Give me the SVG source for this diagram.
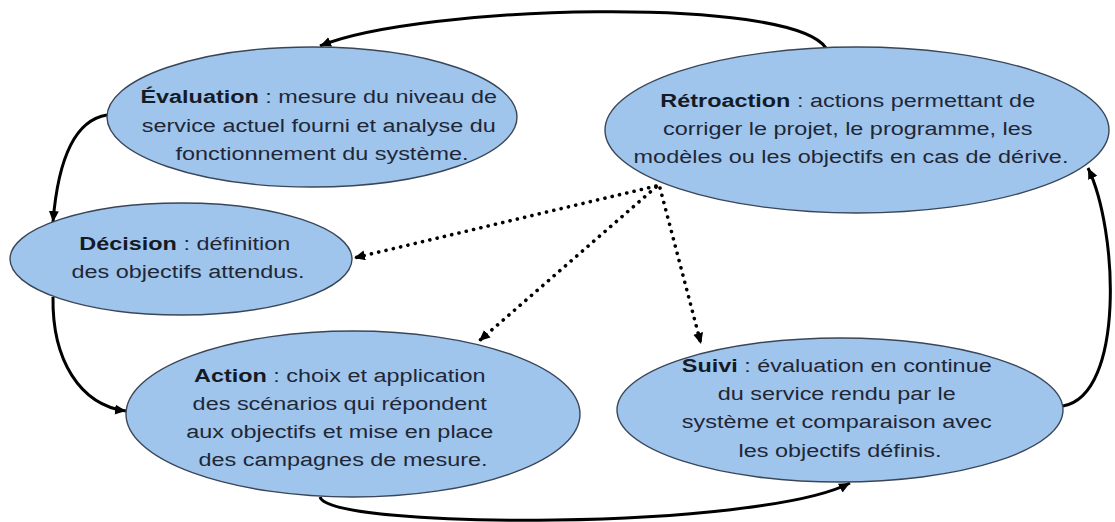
<svg xmlns="http://www.w3.org/2000/svg" width="1115" height="522" viewBox="0 0 1115 522">
  <style>
    .node { fill: #9fc5ec; stroke: #3a4658; stroke-width: 1.4; }
    .label { font-family: "Liberation Sans", Arial, sans-serif; font-size: 18.6px; fill: #1f2737; text-anchor: middle; }
    .label .b { font-weight: bold; fill: #141a26; }
    .flow { fill: none; stroke: #000; stroke-width: 3; }
    .feedback { fill: none; stroke: #000; stroke-width: 3.6; stroke-linecap: round; stroke-dasharray: 0.1 7.4; }
  </style>
  <defs>
    <marker id="arrow" markerUnits="userSpaceOnUse" markerWidth="12" markerHeight="11" refX="11" refY="5" orient="auto">
      <path d="M0,0 L11,5 L0,10 z" fill="#000"/>
    </marker>
  </defs>

  <rect width="1115" height="522" fill="#fff"/>

  <!-- connectors -->
  <g id="connectors">
    <path class="flow" d="M826 48 C790 -5 420 5 320 46" marker-end="url(#arrow)"/>
    <path class="flow" d="M107 115 C75 120 58 160 53 222" marker-end="url(#arrow)"/>
    <path class="flow" d="M53 297 C52 360 80 405 126 411" marker-end="url(#arrow)"/>
    <path class="flow" d="M320 497 C330 530 760 530 850 483" marker-end="url(#arrow)"/>
    <path class="flow" d="M1063 406 C1125 395 1118 230 1088 168" marker-end="url(#arrow)"/>
    <path class="feedback" d="M656 186 L354 258" marker-end="url(#arrow)"/>
    <path class="feedback" d="M656 187 L479 341" marker-end="url(#arrow)"/>
    <path class="feedback" d="M660 188 L701 344" marker-end="url(#arrow)"/>
  </g>

  <!-- Évaluation -->
  <g id="evaluation">
    <ellipse class="node" cx="312" cy="117" rx="205" ry="70"/>
    <text class="label" transform="translate(322 0) scale(1.26 1)">
      <tspan x="0" y="103"><tspan class="b">Évaluation</tspan> : mesure du niveau de</tspan>
      <tspan x="0" y="132">service actuel fourni et analyse du</tspan>
      <tspan x="0" y="160">fonctionnement du système.</tspan>
    </text>
  </g>

  <!-- Rétroaction -->
  <g id="retroaction">
    <ellipse class="node" cx="857" cy="130" rx="252" ry="83"/>
    <text class="label" transform="translate(851 0) scale(1.26 1)">
      <tspan x="0" y="107"><tspan class="b">Rétroaction</tspan> : actions permettant de</tspan>
      <tspan x="0" y="135">corriger le projet, le programme, les</tspan>
      <tspan x="0" y="163">modèles ou les objectifs en cas de dérive.</tspan>
    </text>
  </g>

  <!-- Décision -->
  <g id="decision">
    <ellipse class="node" cx="181" cy="259" rx="171" ry="56"/>
    <text class="label" transform="translate(188 0) scale(1.26 1)">
      <tspan x="0" y="250"><tspan class="b">Décision</tspan> : définition</tspan>
      <tspan x="0" y="278">des objectifs attendus.</tspan>
    </text>
  </g>

  <!-- Action -->
  <g id="action">
    <ellipse class="node" cx="353" cy="414" rx="227" ry="83"/>
    <text class="label" transform="translate(343 0) scale(1.26 1)">
      <tspan x="0" y="382"><tspan class="b">Action</tspan> : choix et application</tspan>
      <tspan x="0" y="410">des scénarios qui répondent</tspan>
      <tspan x="0" y="438">aux objectifs et mise en place</tspan>
      <tspan x="0" y="466">des campagnes de mesure.</tspan>
    </text>
  </g>

  <!-- Suivi -->
  <g id="suivi">
    <ellipse class="node" cx="840" cy="410" rx="223" ry="72"/>
    <text class="label" transform="translate(840 0) scale(1.26 1)">
      <tspan x="0" y="372"><tspan class="b">Suivi</tspan> : évaluation en continue</tspan>
      <tspan x="0" y="400">du service rendu par le</tspan>
      <tspan x="0" y="428">système et comparaison avec</tspan>
      <tspan x="0" y="457">les objectifs définis.</tspan>
    </text>
  </g>
</svg>
